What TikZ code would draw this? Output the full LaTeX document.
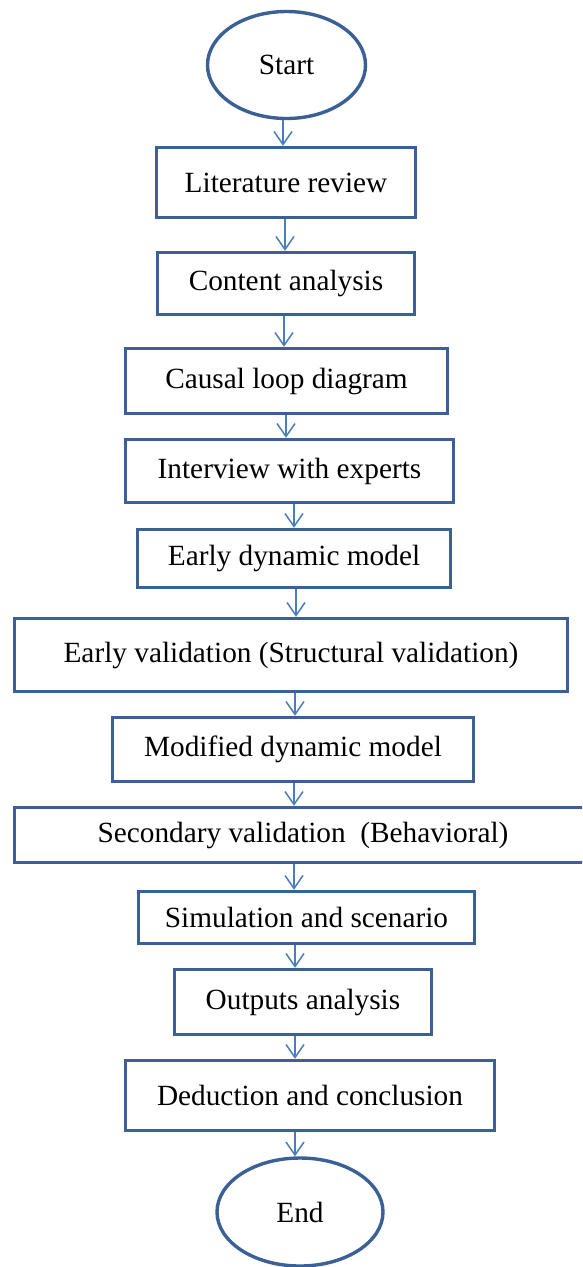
\documentclass[tikz,border=0pt]{standalone}
\usepackage{fontspec}
\setmainfont{Liberation Serif}
\usetikzlibrary{arrows.meta,shapes.geometric}
\definecolor{boxline}{HTML}{3B6096}
\definecolor{arrowline}{HTML}{4A7EBB}
\begin{document}
\begin{tikzpicture}[x=1pt,y=-1pt,
  label font/.style={font=\fontsize{29.3}{35}\selectfont, text=black},
  stepbox/.style={draw=boxline, line width=3.4pt, rectangle, inner sep=0pt, label font},
  terminal/.style={draw=boxline, line width=3.4pt, ellipse, inner sep=0pt, label font},
  flow/.style={draw=arrowline, line width=1.5pt,
    -{Straight Barb[length=13pt,width=18pt,line width=1.5pt]}}]
\useasboundingbox (0,0) rectangle (582,1267);
\clip (0,0) rectangle (582,1267);

% terminals
\node[terminal, minimum width=158pt, minimum height=107pt] (start) at (286.5,65) {Start};
\node[terminal, minimum width=166pt, minimum height=108pt] (end) at (300,1212) {End};

% process steps
\node[stepbox, minimum width=259pt, minimum height=70pt] (b1) at (286,182.5) {Literature review};
\node[stepbox, minimum width=257pt, minimum height=62pt] (b2) at (286,283.5) {Content analysis};
\node[stepbox, minimum width=322pt, minimum height=65pt] (b3) at (286.5,381) {Causal loop diagram};
\node[stepbox, minimum width=328pt, minimum height=63pt] (b4) at (289.5,471) {Interview with experts};
\node[stepbox, minimum width=313pt, minimum height=58pt] (b5) at (294,558.5) {Early dynamic model};
\node[stepbox, minimum width=553pt, minimum height=73pt] (b6) at (291,655) {Early validation (Structural validation)};
\node[stepbox, minimum width=361pt, minimum height=64pt] (b7) at (293,749.5) {Modified dynamic model};
\node[stepbox, minimum width=577pt, minimum height=55pt] (b8) at (303,835) {Secondary validation \ (Behavioral)};
\node[stepbox, minimum width=336pt, minimum height=52pt] (b9) at (306.5,917.5) {Simulation and scenario};
\node[stepbox, minimum width=257pt, minimum height=65pt] (b10) at (303,1002) {Outputs analysis};
\node[stepbox, minimum width=369pt, minimum height=70pt] (b11) at (310,1095.5) {Deduction and conclusion};

% vertical lanes of the connectors
\coordinate (c1) at (283,0);
\coordinate (c2) at (285,0);
\coordinate (c3) at (284,0);
\coordinate (c4) at (286,0);
\coordinate (c5) at (294,0);
\coordinate (c6) at (296,0);
\coordinate (c7) at (295,0);

% connectors
\draw[flow] (start.south -| c1) -- (b1.north -| c1);
\draw[flow] (b1.south -| c2) -- (b2.north -| c2);
\draw[flow] (b2.south -| c3) -- (b3.north -| c3);
\draw[flow] (b3.south -| c4) -- (b4.north -| c4);
\draw[flow] (b4.south -| c5) -- (b5.north -| c5);
\draw[flow] (b5.south -| c6) -- (b6.north -| c6);
\draw[flow] (b6.south -| c7) -- (b7.north -| c7);
\draw[flow] (b7.south -| c5) -- (b8.north -| c5);
\draw[flow] (b8.south -| c5) -- (b9.north -| c5);
\draw[flow] (b9.south -| c7) -- (b10.north -| c7);
\draw[flow] (b10.south -| c7) -- (b11.north -| c7);
\draw[flow] (b11.south -| c7) -- (end.north -| c7);
\end{tikzpicture}
\end{document}
